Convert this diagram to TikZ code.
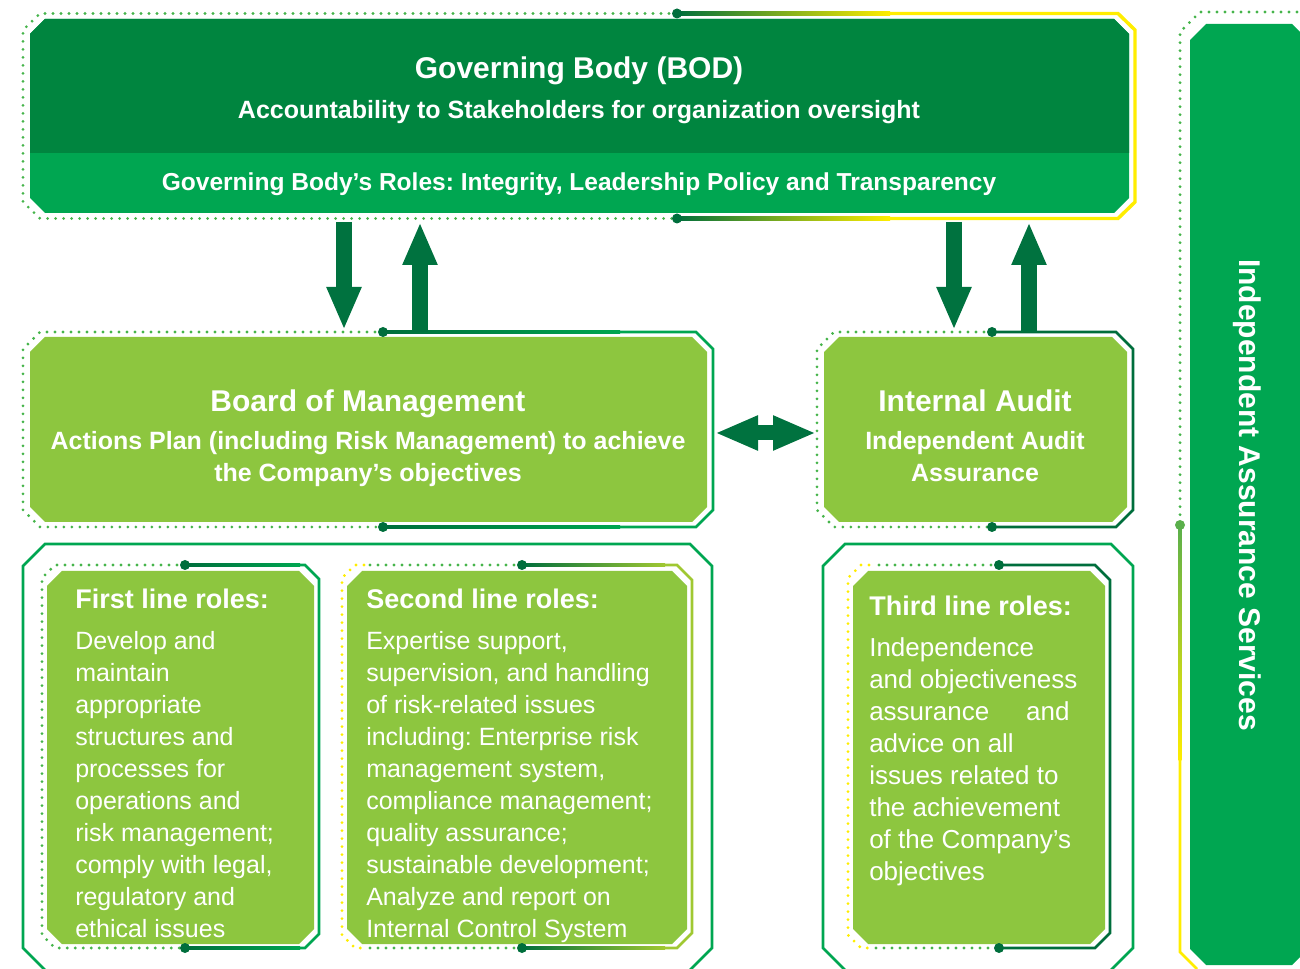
\documentclass[tikz,border=0pt]{standalone}
\usepackage{fontspec}
\setmainfont{Liberation Sans}
\usetikzlibrary{arrows.meta,calc}
\definecolor{gbDark}{RGB}{0,133,63}
\definecolor{gbMid}{RGB}{0,166,81}
\definecolor{boxLight}{RGB}{141,198,63}
\definecolor{arrowDark}{RGB}{0,114,63}
\definecolor{dotGreen}{RGB}{70,180,75}
\definecolor{markDark}{RGB}{0,110,60}
\definecolor{yel}{RGB}{255,237,0}
\definecolor{yelGreen}{RGB}{160,200,50}
\definecolor{iasDot}{RGB}{90,175,75}
\newcommand\chamfill[3]{%
  \fill[#2] ($(#1.north west)+(#3,0)$) -- ($(#1.north east)+(-#3,0)$) -- ($(#1.north east)+(0,#3)$)
    -- ($(#1.south east)+(0,-#3)$) -- ($(#1.south east)+(-#3,0)$) -- ($(#1.south west)+(#3,0)$)
    -- ($(#1.south west)+(0,-#3)$) -- ($(#1.north west)+(0,#3)$) -- cycle;}
\begin{document}
\frenchspacing
\begin{tikzpicture}[x=0.75pt,y=-0.75pt,
  box/.style={rectangle, inner sep=0pt, outer sep=0pt, draw=none},
  dotl/.style={line width=2.3pt, line cap=round, dash pattern=on 0pt off 6pt},
  solidl/.style={line width=2.1pt},
  outerl/.style={line width=1.9pt, gbMid},
  blockarrow/.style={arrowDark, line width=12pt, -{Triangle[length=32.25pt,width=24pt]}},
  ttl/.style={text=white, inner sep=0pt, anchor=base, font=\bfseries\fontsize{22.5pt}{27pt}\selectfont},
  sub/.style={text=white, inner sep=0pt, anchor=base, font=\bfseries\fontsize{18.75pt}{24pt}\selectfont},
  head/.style={text=white, inner sep=0pt, anchor=base west, font=\bfseries\fontsize{20.25pt}{24pt}\selectfont},
  bodyt/.style={text=white, inner sep=0pt, anchor=north west, align=left, font=\fontsize{18.75pt}{24pt}\selectfont},
  bodyw/.style={text=white, inner sep=0pt, anchor=north west, align=left, font=\fontsize{19.5pt}{24pt}\selectfont}
]
\useasboundingbox (0,0) rectangle (1300,969);

% ---------- boxes (named areas) ----------
\node[box, minimum width=824.25pt, minimum height=145.5pt] (gb) at (579.5,116) {};
\node[box, minimum width=507.75pt, minimum height=138.75pt] (bom) at (368.5,429.5) {};
\node[box, minimum width=227.25pt, minimum height=138.75pt] (ia) at (975.5,429.5) {};
\node[box, minimum width=200.25pt, minimum height=279.75pt] (r1) at (180.5,757.5) {};
\node[box, minimum width=255pt, minimum height=279.75pt] (r2) at (517,757.5) {};
\node[box, minimum width=189pt, minimum height=279.75pt] (r3) at (979,757.5) {};
\node[box, minimum width=88.5pt, minimum height=705.75pt] (ias) at (1249,494.5) {};

% ---------- fills ----------
\chamfill{gb}{gbMid}{15}
\fill[gbDark] ($(gb.north west)+(15,0)$) -- ($(gb.north east)+(-15,0)$) -- ($(gb.north east)+(0,15)$)
  -- ($(gb.north east)+(0,134)$) -- ($(gb.north west)+(0,134)$) -- ($(gb.north west)+(0,15)$) -- cycle;
\chamfill{bom}{boxLight}{15}
\chamfill{ia}{boxLight}{15}
\chamfill{r1}{boxLight}{15}
\chamfill{r2}{boxLight}{15}
\chamfill{r3}{boxLight}{15}
\chamfill{ias}{gbMid}{16}

% ---------- outer frames (bottom) ----------
\draw[outerl] (45,544) -- (690,544) -- (712,566) -- (712,948) -- (689,971) -- (46,971) -- (23,948) -- (23,566) -- cycle;
\draw[outerl] (845,544) -- (1111,544) -- (1133,566) -- (1133,948) -- (1110,971) -- (846,971) -- (823,948) -- (823,566) -- cycle;

% ---------- governing body frame ----------
\draw[dotl, dotGreen] (677,13.5) -- (40,13.5) -- (23,30) -- (23,202) -- (40,218.5) -- (677,218.5);
\draw[solidl, yel, line width=2.6pt] (677,13.5) -- (1118,13.5) -- (1135,30) -- (1135,202) -- (1118,218.5) -- (677,218.5);
\shade[left color=markDark, middle color=gbMid, right color=yel] (677,11.8) rectangle (890,15.2);
\shade[left color=markDark, middle color=gbMid, right color=yel] (677,216.8) rectangle (890,220.2);
\fill[markDark] (677,13.5) circle (3.75pt) (677,218.5) circle (3.75pt);

% ---------- board of management frame ----------
\draw[dotl, dotGreen] (383,332) -- (40,332) -- (23,349) -- (23,510) -- (40,527) -- (383,527);
\draw[solidl, gbMid] (383,332) -- (696,332) -- (713,349) -- (713,510) -- (696,527) -- (383,527);
\shade[left color=markDark, right color=gbMid] (383,330.6) rectangle (620,333.4);
\shade[left color=markDark, right color=gbMid] (383,525.6) rectangle (620,528.4);
\fill[markDark] (383,332) circle (3.75pt) (383,527) circle (3.75pt);

% ---------- internal audit frame ----------
\draw[dotl, dotGreen] (992,332) -- (834,332) -- (817,349) -- (817,510) -- (834,527) -- (992,527);
\draw[solidl, markDark] (992,332) -- (1116,332) -- (1133,349) -- (1133,510) -- (1116,527) -- (992,527);
\fill[markDark] (992,332) circle (3.75pt) (992,527) circle (3.75pt);

% ---------- first line frame ----------
\draw[dotl, dotGreen] (185,565) -- (55,565) -- (42,578) -- (42,935) -- (55,948) -- (185,948);
\draw[solidl, gbMid] (185,565) -- (305,565) -- (319,579) -- (319,934) -- (305,948) -- (185,948);
\shade[left color=markDark, right color=gbMid] (185,563.6) rectangle (300,566.4);
\shade[left color=markDark, right color=gbMid] (185,946.6) rectangle (300,949.4);
\fill[markDark] (185,565) circle (3.75pt) (185,948) circle (3.75pt);

% ---------- second line frame ----------
\draw[dotl, dotGreen] (522,565) -- (370,565);
\draw[dotl, yel] (364,565) -- (355,565) -- (342,578) -- (342,935) -- (355,948) -- (364,948);
\draw[dotl, dotGreen] (370,948) -- (522,948);
\draw[solidl, yelGreen] (522,565) -- (677,565) -- (692,580) -- (692,933) -- (677,948) -- (522,948);
\shade[left color=markDark, right color=yelGreen] (522,563.6) rectangle (665,566.4);
\shade[left color=markDark, right color=yelGreen] (522,946.6) rectangle (665,949.4);
\fill[markDark] (522,565) circle (3.75pt) (522,948) circle (3.75pt);

% ---------- third line frame ----------
\draw[dotl, dotGreen] (999,565) -- (876,565);
\draw[dotl, yel] (869,565) -- (861,565) -- (848,578) -- (848,935) -- (861,948) -- (869,948);
\draw[dotl, dotGreen] (876,948) -- (999,948);
\draw[solidl, markDark] (999,565) -- (1095,565) -- (1110,580) -- (1110,933) -- (1095,948) -- (999,948);
\fill[markDark] (999,565) circle (3.75pt) (999,948) circle (3.75pt);

% ---------- independent assurance frame ----------
\draw[dotl, dotGreen] (1305,12) -- (1200,12) -- (1180,32) -- (1180,525);
\shade[top color=iasDot, bottom color=yel] (1178.6,525) rectangle (1181.4,760);
\draw[solidl, yel] (1180,760) -- (1180,952) -- (1197,969);
\fill[iasDot] (1180,525) circle (3.75pt);

% ---------- connectors ----------
\coordinate (ax1) at (344,0);
\coordinate (ax2) at (420,0);
\coordinate (ax3) at (954,0);
\coordinate (ax4) at (1029,0);
\coordinate (ay) at (0,433);
\draw[blockarrow, shorten <=6.75pt, shorten >=5.25pt] (gb.south -| ax1) -- (bom.north -| ax1);
\draw[blockarrow, shorten <=3.75pt, shorten >=6.75pt] (bom.north -| ax2) -- (gb.south -| ax2);
\draw[blockarrow, shorten <=6.75pt, shorten >=5.25pt] (gb.south -| ax3) -- (ia.north -| ax3);
\draw[blockarrow, shorten <=3.75pt, shorten >=6.75pt] (ia.north -| ax4) -- (gb.south -| ax4);
\draw[arrowDark, line width=11.25pt, {Triangle[length=32.25pt,width=24pt]}-{Triangle[length=32.25pt,width=24pt]}, shorten <=6pt, shorten >=6pt] (bom.east |- ay) -- (ia.west |- ay);

% ---------- texts ----------
\node[ttl] (gbT) at (579,79) {Governing Body (BOD)};
\node[sub] (gbS) at (579,119) {Accountability to Stakeholders for organization oversight};
\node[sub, font=\bfseries\fontsize{18.4pt}{24pt}\selectfont] (gbR) at (579,191) {Governing Body’s Roles: Integrity, Leadership Policy and Transparency};

\node[ttl] (bomT) at (368,412) {Board of Management};
\node[sub] (bomS1) at (368,450) {Actions Plan (including Risk Management) to achieve};
\node[sub] (bomS2) at (368,482) {the Company’s objectives};

\node[ttl] (iaT) at (975,412) {Internal Audit};
\node[sub] (iaS1) at (975,450) {Independent Audit};
\node[sub] (iaS2) at (975,482) {Assurance};

\node[head] (r1h) at (75,609) {First line roles:};
\node[bodyt] (r1b) at (75,629) {\rule{0pt}{15pt}Develop and\\maintain\\appropriate\\structures and\\processes for\\operations and\\risk management;\\comply with legal,\\regulatory and\\ethical issues};

\node[head] (r2h) at (366,609) {Second line roles:};
\node[bodyt] (r2b) at (366,629) {\rule{0pt}{15pt}Expertise support,\\supervision, and handling\\of risk-related issues\\including: Enterprise risk\\management system,\\compliance management;\\quality assurance;\\sustainable development;\\Analyze and report on\\Internal Control System};

\node[head] (r3h) at (869,616) {Third line roles:};
\node[bodyw] (r3b) at (869,636) {\rule{0pt}{15pt}Independence\\and objectiveness\\\makebox[117.75pt][l]{assurance}and\\advice on all\\issues related to\\the achievement\\of the Company’s\\objectives};

\node[ttl, rotate=-90, anchor=center] (iasT) at (1247,495) {Independent Assurance Services};
\end{tikzpicture}
\end{document}
